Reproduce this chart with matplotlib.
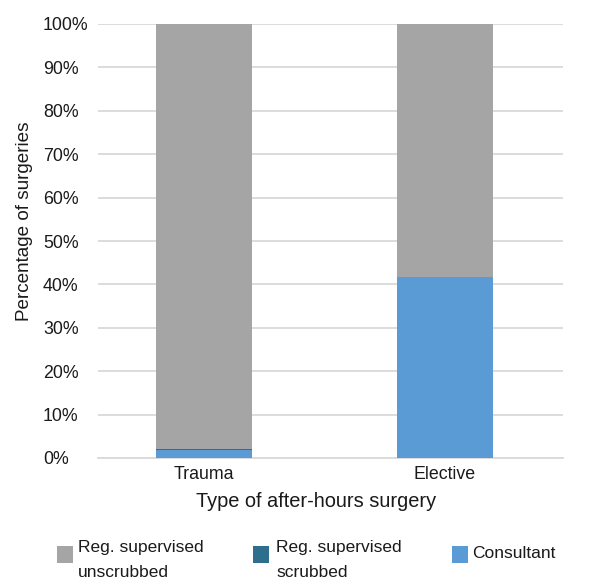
import matplotlib
matplotlib.use("Agg")
import matplotlib.pyplot as plt
from matplotlib.patches import Rectangle
from matplotlib.ticker import PercentFormatter

plt.rcParams['font.family'] = ['Liberation Sans', 'DejaVu Sans']

categories = ["Trauma", "Elective"]
consultant = [1.8, 41.7]
reg_scrubbed = [0.3, 0.0]
reg_unscrubbed = [97.9, 58.3]

series_labels = ["Reg. supervised\nunscrubbed", "Reg. supervised\nscrubbed", "Consultant"]
colors = {"unscrubbed": "#A5A5A5", "scrubbed": "#2E6F8E", "consultant": "#5B9BD5"}
text_color = "#1a1a1a"

W, H = 595, 581
fig = plt.figure(figsize=(W / 100, H / 100), dpi=100)
ax = fig.add_axes([98 / W, 1 - 458 / H, 465 / W, 434 / H])

x = list(range(len(categories)))
w = 0.40
ax.bar(x, consultant, w, color=colors["consultant"], zorder=3)
ax.bar(x, reg_scrubbed, w, bottom=consultant, color=colors["scrubbed"], zorder=3)
bottom3 = [a + b for a, b in zip(consultant, reg_scrubbed)]
ax.bar(x, reg_unscrubbed, w, bottom=bottom3, color=colors["unscrubbed"], zorder=3)

ax.set_xlim(-0.44, 1.49)
ax.set_ylim(0, 100)
ax.set_yticks(range(0, 101, 10))
ax.yaxis.set_major_formatter(PercentFormatter(decimals=0))
ax.set_xticks(x)
ax.set_xticklabels(categories)
ax.tick_params(axis='both', length=0, labelsize=12.8, colors=text_color)
# left-aligned percentage labels starting at a fixed column
ax.tick_params(axis='y', pad=55 * 0.72)
ax.tick_params(axis='x', pad=6)
for lab in ax.get_yticklabels():
    lab.set_horizontalalignment('left')

ax.grid(axis='y', color='#D9D9D9', linewidth=1.3, zorder=0)
for side in ['top', 'right', 'left']:
    ax.spines[side].set_visible(False)
ax.spines['bottom'].set_color('#D9D9D9')
ax.spines['bottom'].set_linewidth(1.3)

ax.set_xlabel("Type of after-hours surgery", fontsize=14.4, color=text_color)
ax.xaxis.set_label_coords((316 - 98) / 465, (458 - 492) / 434)
ax.set_ylabel("Percentage of surgeries", fontsize=13.6, color=text_color)
ax.yaxis.label.set_va('center')
ax.yaxis.set_label_coords((25 - 98) / 465, (458 - 221) / 434)

# legend row below the axes
legend_items = [
    (57, 78, colors["unscrubbed"], series_labels[0]),
    (253, 276, colors["scrubbed"], series_labels[1]),
    (452, 472, colors["consultant"], series_labels[2]),
]
for sx, tx, col, lab in legend_items:
    fig.patches.append(Rectangle((sx / W, 1 - 563 / H), 16 / W, 17 / H,
                                 transform=fig.transFigure, facecolor=col,
                                 edgecolor='none'))
    if "\n" in lab:
        fig.text(tx / W, 1 - 560 / H, lab, fontsize=12.5, color=text_color,
                 va='center', ha='left', linespacing=1.83)
    else:
        fig.text(tx / W, 1 - 553 / H, lab, fontsize=12.5, color=text_color,
                 va='center', ha='left')

fig.savefig("out.png", dpi=100)
